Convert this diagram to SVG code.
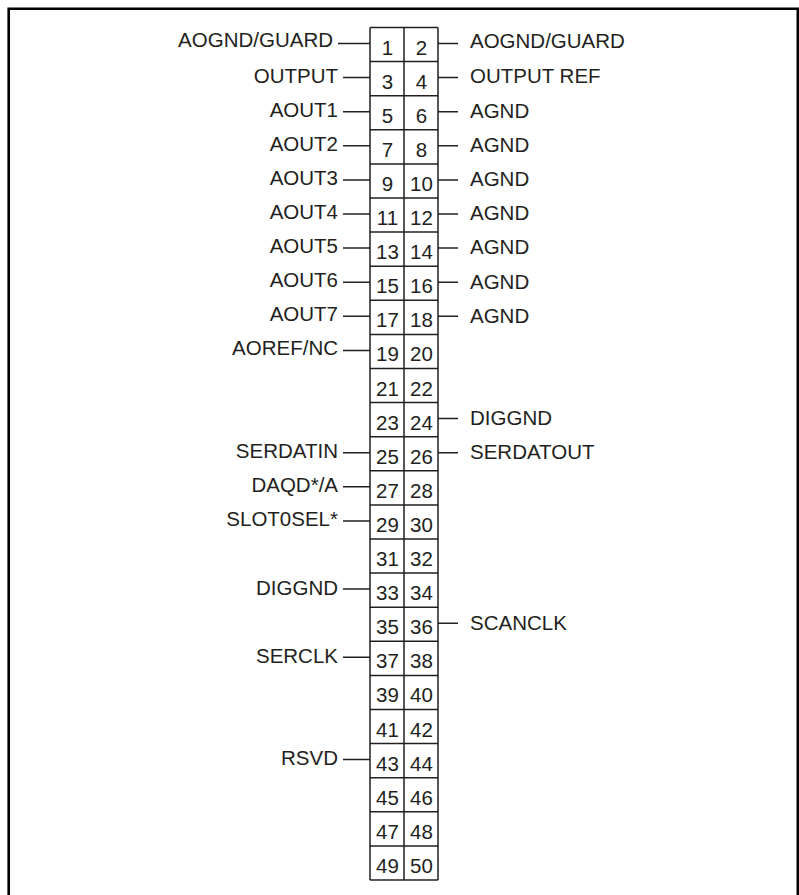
<svg xmlns="http://www.w3.org/2000/svg" width="799" height="895" viewBox="0 0 799 895">
<style>
.lbl{font-family:"Liberation Sans",Arial,sans-serif;font-size:20.5px;fill:#231f20}
.l{text-anchor:end}
.num{font-family:"Liberation Sans",Arial,sans-serif;font-size:20.5px;fill:#231f20;text-anchor:middle}
.grid{fill:none;stroke:#231f20;stroke-width:1.5}
.ld{stroke:#231f20;stroke-width:1.5;fill:none}
</style>
<rect width="799" height="895" fill="#ffffff"/>
<path d="M8.7,900 V8.7 H797.8 V900" fill="none" stroke="#000" stroke-width="2.6"/>
<g id="header">
<path class="grid" d="M370,27.5 V880 M404,27.5 V880 M438,27.5 V880
M370,27.5 H438 M370,61.6 H438 M370,95.7 H438 M370,129.8 H438 M370,163.9 H438 M370,198 H438 M370,232.1 H438 M370,266.2 H438 M370,300.3 H438 M370,334.4 H438 M370,368.5 H438 M370,402.6 H438 M370,436.7 H438 M370,470.8 H438 M370,504.9 H438 M370,539 H438 M370,573.1 H438 M370,607.2 H438 M370,641.3 H438 M370,675.4 H438 M370,709.5 H438 M370,743.6 H438 M370,777.7 H438 M370,811.8 H438 M370,845.9 H438 M370,880 H438"/>
<g class="num">
<text x="387.5" y="54.5">1</text><text x="421.5" y="54.5">2</text>
<text x="387.5" y="88.6">3</text><text x="421.5" y="88.6">4</text>
<text x="387.5" y="122.7">5</text><text x="421.5" y="122.7">6</text>
<text x="387.5" y="156.8">7</text><text x="421.5" y="156.8">8</text>
<text x="387.5" y="190.9">9</text><text x="421.5" y="190.9">10</text>
<text x="387.5" y="225">11</text><text x="421.5" y="225">12</text>
<text x="387.5" y="259.1">13</text><text x="421.5" y="259.1">14</text>
<text x="387.5" y="293.2">15</text><text x="421.5" y="293.2">16</text>
<text x="387.5" y="327.3">17</text><text x="421.5" y="327.3">18</text>
<text x="387.5" y="361.4">19</text><text x="421.5" y="361.4">20</text>
<text x="387.5" y="395.5">21</text><text x="421.5" y="395.5">22</text>
<text x="387.5" y="429.6">23</text><text x="421.5" y="429.6">24</text>
<text x="387.5" y="463.7">25</text><text x="421.5" y="463.7">26</text>
<text x="387.5" y="497.8">27</text><text x="421.5" y="497.8">28</text>
<text x="387.5" y="531.9">29</text><text x="421.5" y="531.9">30</text>
<text x="387.5" y="566">31</text><text x="421.5" y="566">32</text>
<text x="387.5" y="600.1">33</text><text x="421.5" y="600.1">34</text>
<text x="387.5" y="634.2">35</text><text x="421.5" y="634.2">36</text>
<text x="387.5" y="668.3">37</text><text x="421.5" y="668.3">38</text>
<text x="387.5" y="702.4">39</text><text x="421.5" y="702.4">40</text>
<text x="387.5" y="736.5">41</text><text x="421.5" y="736.5">42</text>
<text x="387.5" y="770.6">43</text><text x="421.5" y="770.6">44</text>
<text x="387.5" y="804.7">45</text><text x="421.5" y="804.7">46</text>
<text x="387.5" y="838.8">47</text><text x="421.5" y="838.8">48</text>
<text x="387.5" y="872.9">49</text><text x="421.5" y="872.9">50</text>
</g>
</g>
<g id="connectors" class="ld">
<path d="M338,43.5 H370 M343,77.6 H370 M343,111.7 H370 M343,145.8 H370 M343,179.9 H370 M343,214 H370 M343,248.1 H370 M343,282.2 H370 M343,316.3 H370 M343,350.4 H370 M343,452.7 H370 M343,486.8 H370 M343,520.9 H370 M343,589.1 H370 M343,657.3 H370 M343,759.6 H370"/>
<path d="M438,43.5 H458 M438,77.6 H458 M438,111.7 H458 M438,145.8 H458 M438,179.9 H458 M438,214 H458 M438,248.1 H458 M438,282.2 H458 M438,316.3 H458 M438,418.6 H458 M438,452.7 H458 M438,623.2 H458"/>
</g>
<g id="left-labels" class="lbl l">
<g id="pin1"><text x="333" y="47">AOGND/GUARD</text></g>
<g id="pin3"><text x="338" y="82.6">OUTPUT</text></g>
<g id="pin5"><text x="338" y="116.7">AOUT1</text></g>
<g id="pin7"><text x="338" y="150.8">AOUT2</text></g>
<g id="pin9"><text x="338" y="184.9">AOUT3</text></g>
<g id="pin11"><text x="338" y="219">AOUT4</text></g>
<g id="pin13"><text x="338" y="253.1">AOUT5</text></g>
<g id="pin15"><text x="338" y="287.2">AOUT6</text></g>
<g id="pin17"><text x="338" y="321.3">AOUT7</text></g>
<g id="pin19"><text x="338" y="355.4">AOREF/NC</text></g>
<g id="pin25"><text x="338" y="457.7">SERDATIN</text></g>
<g id="pin27"><text x="338" y="491.8">DAQD*/A</text></g>
<g id="pin29"><text x="338" y="525.9">SLOT0SEL*</text></g>
<g id="pin33"><text x="338" y="595">DIGGND</text></g>
<g id="pin37"><text x="338" y="663">SERCLK</text></g>
<g id="pin43"><text x="338" y="765">RSVD</text></g>
</g>
<g id="right-labels" class="lbl">
<g id="pin2"><text x="470" y="48">AOGND/GUARD</text></g>
<g id="pin4"><text x="470" y="83">OUTPUT REF</text></g>
<g id="pin6"><text x="470" y="118">AGND</text></g>
<g id="pin8"><text x="470" y="152">AGND</text></g>
<g id="pin10"><text x="470" y="186">AGND</text></g>
<g id="pin12"><text x="470" y="220">AGND</text></g>
<g id="pin14"><text x="470" y="254">AGND</text></g>
<g id="pin16"><text x="470" y="288.5">AGND</text></g>
<g id="pin18"><text x="470" y="322.5">AGND</text></g>
<g id="pin24"><text x="470" y="425">DIGGND</text></g>
<g id="pin26"><text x="470" y="459">SERDATOUT</text></g>
<g id="pin36"><text x="470" y="629.5">SCANCLK</text></g>
</g>
</svg>
